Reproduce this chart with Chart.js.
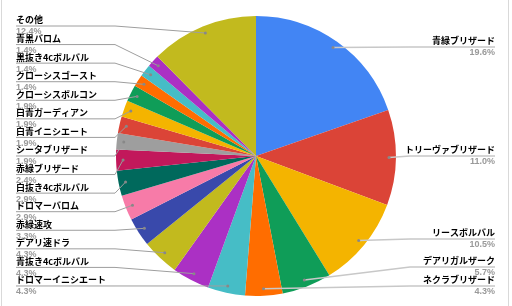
<!DOCTYPE html>
<html>
<head>
<meta charset="utf-8">
<script src="https://cdn.jsdelivr.net/npm/chart.js@4"></script>
<style>
  html, body { margin: 0; padding: 0; background: #fff; }
  #wrap { width: 512px; height: 306px; position: relative; }
</style>
</head>
<body>
<div id="wrap"><canvas id="pie-chart" width="512" height="306"></canvas></div>
<script>
// デッキ分布
const categories = [
  "青緑ブリザード", "トリーヴァブリザード", "リースボルバル", "デアリガルザーク", "ネクラブリザード",
  "ドロマーイニシエート", "青抜き4cボルバル", "デアリ速ドラ", "赤緑速攻", "ドロマーバロム",
  "白抜き4cボルバル", "赤緑ブリザード", "シータブリザード", "白青イニシエート", "白青ガーディアン",
  "クローシスボルコン", "クローシスゴースト", "黒抜き4cボルバル", "青黒バロム", "その他"
];
const shares = [19.6, 11.0, 10.5, 5.7, 4.3, 4.3, 4.3, 4.3, 3.3, 2.9, 2.9, 2.4, 1.9, 1.9, 1.9, 1.9, 1.4, 1.4, 1.4, 12.4];

const sliceColors = [
  "#4285F4", "#DB4437", "#F4B400", "#0F9D58", "#FF6D00",
  "#46BDC6", "#AB30C4", "#C2BA1E", "#3949AB", "#F77BA8",
  "#00695C", "#C2185B", "#9E9E9E", "#DB4437", "#F4B400",
  "#0F9D58", "#FF6D00", "#46BDC6", "#AB30C4", "#C2BA1E"
];

// ラベルの線の位置
const rightLineY = [47, 156, 239, 267, 286];
const leftTop = 26, leftStep = 18.57;

const labelPlugin = {
  id: "sideLabels",
  afterDraw(chart) {
    const c = chart.ctx;
    const arcs = chart.getDatasetMeta(0).data;
    c.save();
    // 枠線
    c.strokeStyle = "#d9d9d9";
    c.lineWidth = 1;
    c.beginPath();
    c.moveTo(1.5, 0); c.lineTo(1.5, 306);
    c.moveTo(508.5, 0); c.lineTo(508.5, 306);
    c.stroke();

    arcs.forEach((arc, i) => {
      const mid = (arc.startAngle + arc.endAngle) / 2;
      const r = arc.outerRadius * 0.95;
      const ax = arc.x + Math.cos(mid) * r;
      const ay = arc.y + Math.sin(mid) * r;
      const pct = shares[i].toFixed(1) + "%";
      if (i < rightLineY.length) {
        const ly = rightLineY[i];
        c.strokeStyle = "#c8c8c8";
        c.lineWidth = 1.5;
        c.beginPath();
        c.moveTo(ax, ay);
        c.lineTo(410, ly);
        c.lineTo(495, ly);
        c.stroke();
        c.textAlign = "right";
        c.textBaseline = "middle";
        c.fillStyle = "#000";
        c.font = "bold 9px 'Noto Sans CJK JP'";
        c.fillText(categories[i], 495, ly - 6);
        c.fillStyle = "#999";
        c.font = "bold 9px 'Liberation Sans'";
        c.fillText(pct, 495, ly + 6);
      } else {
        const slot = categories.length - 1 - i;
        const ly = leftTop + slot * leftStep;
        c.strokeStyle = "#9e9e9e";
        c.lineWidth = 1;
        c.beginPath();
        c.moveTo(16, ly);
        c.lineTo(115, ly);
        c.lineTo(ax, ay);
        c.stroke();
        c.textAlign = "left";
        c.textBaseline = "middle";
        c.fillStyle = "#000";
        c.font = "bold 9px 'Noto Sans CJK JP'";
        c.fillText(categories[i], 16, ly - 6);
        c.fillStyle = "#999";
        c.font = "bold 9px 'Liberation Sans'";
        c.fillText(pct, 16, ly + 6);
      }
      c.fillStyle = "#888";
      c.beginPath();
      c.arc(ax, ay, 1.5, 0, Math.PI * 2);
      c.fill();
    });
    c.restore();
  }
};

const ctx = document.getElementById("pie-chart");
new Chart(ctx, {
  type: "pie",
  data: {
    labels: categories,
    datasets: [{
      data: shares,
      backgroundColor: sliceColors,
      borderWidth: 0
    }]
  },
  options: {
    responsive: false,
    animation: false,
    events: [],
    layout: { padding: { top: 16, bottom: 10 } },
    plugins: {
      legend: { display: false },
      tooltip: { enabled: false }
    }
  },
  plugins: [labelPlugin]
});
</script>
</body>
</html>
